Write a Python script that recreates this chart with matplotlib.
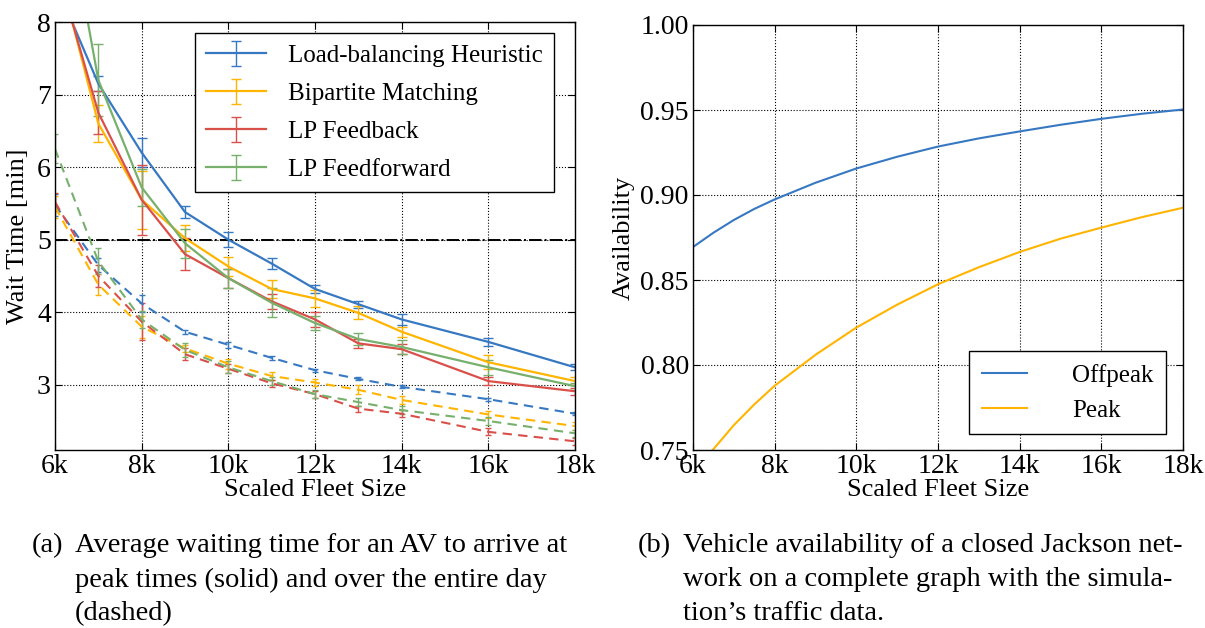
import matplotlib.pyplot as plt

# fleet sizes (thousands of vehicles)
fleet = [6, 7, 8, 9, 10, 11, 12, 13, 14, 16, 18]

names = ['Load-balancing Heuristic', 'Bipartite Matching', 'LP Feedback', 'LP Feedforward']
colors = ['#3778c2', '#ffb400', '#d9504a', '#77b06c']

# peak wait times (solid)
peak_lb = [8.55, 7.15, 6.2, 5.38, 5.0, 4.67, 4.32, 4.11, 3.9, 3.59, 3.24]
peak_bm = [8.93, 6.6, 5.55, 5.02, 4.63, 4.32, 4.19, 3.99, 3.73, 3.31, 3.05]
peak_fb = [8.83, 6.75, 5.55, 4.8, 4.47, 4.15, 3.9, 3.57, 3.49, 3.05, 2.91]
peak_ff = [10.5, 7.2, 5.72, 4.95, 4.47, 4.13, 3.85, 3.63, 3.52, 3.24, 2.98]
peak_err_lb = [0.1, 0.1, 0.2, 0.08, 0.1, 0.08, 0.05, 0.05, 0.07, 0.06, 0.04]
peak_err_bm = [0.2, 0.25, 0.4, 0.18, 0.13, 0.13, 0.12, 0.09, 0.07, 0.1, 0.06]
peak_err_fb = [0.2, 0.3, 0.48, 0.22, 0.13, 0.1, 0.1, 0.06, 0.07, 0.06, 0.05]
peak_err_ff = [0.3, 0.5, 0.25, 0.2, 0.13, 0.2, 0.1, 0.08, 0.1, 0.1, 0.05]

# whole-day wait times (dashed)
day_lb = [5.48, 4.65, 4.12, 3.73, 3.55, 3.37, 3.2, 3.08, 2.97, 2.8, 2.6]
day_bm = [5.45, 4.38, 3.8, 3.5, 3.29, 3.12, 3.03, 2.93, 2.79, 2.59, 2.43]
day_fb = [5.52, 4.5, 3.87, 3.42, 3.22, 3.02, 2.87, 2.67, 2.6, 2.35, 2.22]
day_ff = [6.25, 4.7, 3.9, 3.48, 3.24, 3.05, 2.87, 2.76, 2.65, 2.5, 2.33]
day_err_lb = [0.15, 0.1, 0.12, 0.03, 0.04, 0.03, 0.02, 0.02, 0.02, 0.02, 0.02]
day_err_bm = [0.15, 0.15, 0.15, 0.05, 0.07, 0.06, 0.05, 0.06, 0.05, 0.05, 0.05]
day_err_fb = [0.12, 0.15, 0.25, 0.08, 0.06, 0.05, 0.05, 0.04, 0.05, 0.05, 0.05]
day_err_ff = [0.2, 0.18, 0.12, 0.1, 0.08, 0.06, 0.06, 0.05, 0.05, 0.05, 0.05]

# availability of the closed Jackson network
avail_fleet = [6, 6.5, 7, 7.5, 8, 9, 10, 11, 12, 13, 14, 15, 16, 17, 18]
offpeak = [0.8694, 0.8778, 0.8853, 0.8918, 0.8974, 0.9072, 0.9156, 0.9225, 0.9285,
           0.9333, 0.9374, 0.9413, 0.9448, 0.9478, 0.9503]
peak = [0.735, 0.7505, 0.7646, 0.7768, 0.7878, 0.806, 0.822, 0.8355, 0.8475,
        0.8575, 0.8665, 0.8743, 0.8808, 0.887, 0.8925]

xticks = [6, 8, 10, 12, 14, 16, 18]
xticklabels = ['6k', '8k', '10k', '12k', '14k', '16k', '18k']

plt.rcParams['font.family'] = ['Liberation Serif', 'DejaVu Serif']
plt.rcParams['mathtext.fontset'] = 'stix'

W, H = 1205, 628
fig = plt.figure(figsize=(W / 100, H / 100), dpi=100)


def style_axes(ax):
    ax.grid(True, color='black', linestyle=':', linewidth=0.8)
    ax.tick_params(direction='in', top=True, right=True, labelsize=20, length=5, pad=3)
    ax.set_xticks(xticks)
    ax.set_xticklabels(xticklabels)
    ax.set_xlim(6, 18)
    for s in ax.spines.values():
        s.set_linewidth(1.0)


# ---- left: wait times ----
ax1 = fig.add_axes([55 / W, 1 - 450 / H, 520 / W, 428 / H])
peaks = [peak_lb, peak_bm, peak_fb, peak_ff]
peak_errs = [peak_err_lb, peak_err_bm, peak_err_fb, peak_err_ff]
days = [day_lb, day_bm, day_fb, day_ff]
day_errs = [day_err_lb, day_err_bm, day_err_fb, day_err_ff]

for vals, errs, c in zip(days, day_errs, colors):
    ax1.errorbar(fleet, vals, yerr=errs, color=c, linestyle='--', dashes=(4.5, 3),
                 linewidth=1.5, capsize=2.5, elinewidth=1.0, capthick=1.0)
for vals, errs, c, name in zip(peaks, peak_errs, colors, names):
    ax1.errorbar(fleet, vals, yerr=errs, color=c, linewidth=1.6, capsize=3.5,
                 elinewidth=1.0, capthick=1.0, label=name)

ax1.axhline(5, color='black', linestyle='-.', linewidth=1.4)
ax1.set_ylim(2.1, 8)
ax1.set_yticks([3, 4, 5, 6, 7, 8])
style_axes(ax1)
ax1.set_xlabel('Scaled Fleet Size', fontsize=19, labelpad=0)
ax1.set_ylabel('Wait Time [min]', fontsize=19, labelpad=6)
leg = ax1.legend(loc='upper right', bbox_to_anchor=(0.97, 0.985), fontsize=18,
                 fancybox=False, framealpha=1, edgecolor='black', borderpad=0.45,
                 handlelength=2.4, handletextpad=0.9, labelspacing=0.62, borderaxespad=0.2)
leg.get_frame().set_linewidth(1.0)

# ---- right: availability ----
ax2 = fig.add_axes([693 / W, 1 - 450 / H, 490 / W, 425 / H])
ax2.plot(avail_fleet, offpeak, color=colors[0], linewidth=1.5, label='Offpeak')
ax2.plot(avail_fleet, peak, color=colors[1], linewidth=1.5, label='Peak')
ax2.set_ylim(0.75, 1.0)
ax2.set_yticks([0.75, 0.80, 0.85, 0.90, 0.95, 1.00])
ax2.set_yticklabels(['0.75', '0.80', '0.85', '0.90', '0.95', '1.00'])
style_axes(ax2)
ax2.set_xlabel('Scaled Fleet Size', fontsize=19, labelpad=0)
ax2.set_ylabel('Availability', fontsize=19, labelpad=4)
leg2 = ax2.legend(loc='lower right', bbox_to_anchor=(0.975, 0.025), fontsize=18,
                  fancybox=False, framealpha=1, edgecolor='black', borderpad=0.5,
                  handlelength=1.8, handletextpad=1.8, labelspacing=0.5, borderaxespad=0.2)
leg2.get_frame().set_linewidth(1.0)

# ---- captions ----
cap_size = 20.5
lines_a = ['Average waiting time for an AV to arrive at',
           'peak times (solid) and over the entire day',
           '(dashed)']
lines_b = ['Vehicle availability of a closed Jackson net-',
           'work on a complete graph with the simula-',
           'tion\u2019s traffic data.']
for i, (la, lb) in enumerate(zip(lines_a, lines_b)):
    y = 1 - (546 + i * 34) / H
    fig.text(75 / W, y, la, fontsize=cap_size, va='center', ha='left')
    fig.text(683 / W, y, lb, fontsize=cap_size, va='center', ha='left')
fig.text(32 / W, 1 - 546 / H, '(a)', fontsize=cap_size, va='center', ha='left')
fig.text(638 / W, 1 - 546 / H, '(b)', fontsize=cap_size, va='center', ha='left')

fig.savefig('out.png', dpi=100)
